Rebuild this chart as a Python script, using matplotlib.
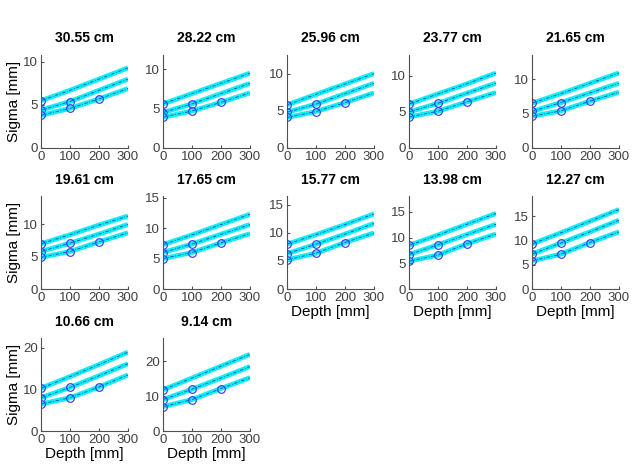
import matplotlib
matplotlib.use("Agg")
import matplotlib.pyplot as plt
from matplotlib.ticker import MultipleLocator

plt.rcParams['font.family'] = ['Liberation Sans', 'DejaVu Sans']

titles = ['30.55 cm', '28.22 cm', '25.96 cm', '23.77 cm', '21.65 cm',
          '19.61 cm', '17.65 cm', '15.77 cm', '13.98 cm', '12.27 cm',
          '10.66 cm', '9.14 cm']

depth = [0, 100, 200, 300]

# sigma [mm] at depth 0/100/200/300 for the three curves of every panel
sig_top = [[5.5, 6.7, 8.0, 9.3], [5.6, 6.9, 8.2, 9.5], [5.8, 7.2, 8.6, 10.0],
           [6.1, 7.5, 8.9, 10.4], [6.5, 7.9, 9.4, 10.9], [7.0, 8.4, 9.9, 11.3],
           [7.3, 8.9, 10.6, 12.3], [8.0, 9.7, 11.5, 13.4], [8.5, 10.5, 12.6, 14.7],
           [9.3, 11.6, 14.0, 16.4], [10.3, 13.1, 16.0, 19.0], [11.8, 15.2, 18.6, 22.0]]
sig_mid = [[4.4, 5.4, 6.7, 8.0], [4.5, 5.6, 6.9, 8.2], [4.8, 5.9, 7.3, 8.7],
           [5.0, 6.2, 7.6, 9.0], [5.3, 6.6, 8.0, 9.4], [5.8, 7.1, 8.5, 10.0],
           [6.0, 7.4, 9.0, 10.6], [6.3, 8.0, 9.8, 11.7], [6.7, 8.6, 10.6, 12.6],
           [7.2, 9.5, 11.8, 14.2], [8.0, 10.5, 13.3, 16.2], [9.0, 12.0, 15.2, 18.5]]
sig_bot = [[3.8, 4.6, 5.7, 6.9], [3.9, 4.7, 5.8, 7.0], [4.1, 4.9, 6.1, 7.4],
           [4.3, 5.1, 6.4, 7.7], [4.6, 5.4, 6.8, 8.1], [4.9, 5.8, 7.3, 8.7],
           [5.0, 6.0, 7.6, 9.1], [5.2, 6.4, 8.3, 10.0], [5.4, 6.6, 8.8, 10.7],
           [5.8, 7.2, 9.6, 11.8], [6.5, 8.0, 10.6, 13.5], [7.0, 9.0, 12.2, 15.3]]

# number of measured points (circles) on top / mid / bottom curve
n_meas = [1, 2, 3]

ytop = [10.8, 11.8, 12.5, 12.9, 13.5, 14.4, 15.3, 16.6, 18.1, 19.2, 22.4, 26.7]
ystep = [5, 5, 5, 5, 5, 5, 5, 5, 5, 5, 10, 10]

W, H = 637, 472
fig = plt.figure(figsize=(W / 100, H / 100), dpi=100)

lefts = [41, 163, 287, 409, 532]
bottoms = [148, 289, 431]
aw, ah = 87, 93
gray = '#505050'

for i in range(12):
    r, c = divmod(i, 5)
    ax = fig.add_axes([lefts[c] / W, 1 - bottoms[r] / H, aw / W, ah / H])
    for curve, n in zip([sig_top[i], sig_mid[i], sig_bot[i]], n_meas):
        ax.plot(depth, curve, color='#10F0F0', lw=3.5, solid_capstyle='butt')
        ax.plot(depth, curve, color='#2040C8', lw=0.6, dashes=(4, 2, 1, 2))
        ax.plot(depth[:n], curve[:n], 'o', mfc='none', mec='#3030FF', ms=5.5, mew=0.8)
    ax.set_xlim(0, 300)
    ax.set_ylim(0, ytop[i])
    ax.set_xticks([0, 100, 200, 300])
    ax.yaxis.set_major_locator(MultipleLocator(ystep[i]))
    ax.spines['top'].set_visible(False)
    ax.spines['right'].set_visible(False)
    for s in ['left', 'bottom']:
        ax.spines[s].set_color(gray)
    ax.tick_params(direction='in', length=2, labelsize=9.5, colors=gray, labelcolor='#404040', pad=2)
    ax.set_title(titles[i], fontsize=10, fontweight='bold', pad=9)
    if c == 0:
        ax.set_ylabel('Sigma [mm]', fontsize=11, labelpad=2)
    if r == 2 or (r == 1 and c >= 2):
        ax.set_xlabel('Depth [mm]', fontsize=11, labelpad=1)

fig.savefig('out.png', dpi=100)
